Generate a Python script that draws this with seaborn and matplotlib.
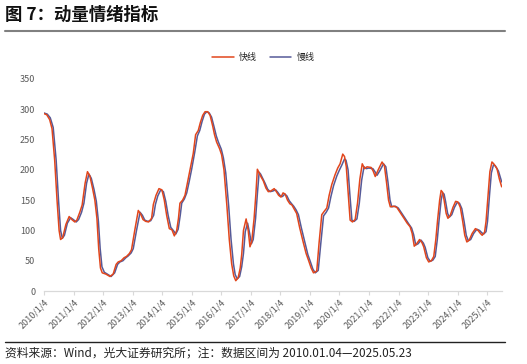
import numpy as np
import pandas as pd
import seaborn as sns
import matplotlib.pyplot as plt
from matplotlib.lines import Line2D

# 快线 (fast line) - decimal year positions and values
fast_t = [2010.00, 2010.10, 2010.20, 2010.28, 2010.37, 2010.45, 2010.52, 2010.57, 2010.64, 2010.75,
          2010.86, 2010.95, 2011.05, 2011.12, 2011.22, 2011.30, 2011.40, 2011.48, 2011.56, 2011.65,
          2011.73, 2011.80, 2011.86, 2011.92, 2011.98, 2012.10, 2012.24, 2012.35, 2012.45, 2012.52,
          2012.62, 2012.72, 2012.80, 2012.90, 2012.97, 2013.08, 2013.20, 2013.28, 2013.36, 2013.45,
          2013.55, 2013.65, 2013.71, 2013.80, 2013.90, 2014.00, 2014.08, 2014.16, 2014.25, 2014.34,
          2014.42, 2014.50, 2014.56, 2014.61, 2014.70, 2014.78, 2014.86, 2014.95, 2015.06, 2015.14,
          2015.23, 2015.30, 2015.38, 2015.46, 2015.55, 2015.63, 2015.72, 2015.78, 2015.85, 2015.95,
          2016.02, 2016.10, 2016.20, 2016.28, 2016.36, 2016.43, 2016.50, 2016.58, 2016.65, 2016.70,
          2016.76, 2016.85, 2016.92, 2016.98, 2017.04, 2017.12, 2017.18, 2017.23, 2017.28, 2017.36,
          2017.43, 2017.52, 2017.60, 2017.68, 2017.80, 2017.86, 2017.95, 2018.03, 2018.10, 2018.17,
          2018.25, 2018.33, 2018.40, 2018.48, 2018.56, 2018.66, 2018.79, 2018.88, 2018.96, 2019.05,
          2019.13, 2019.24, 2019.32, 2019.41, 2019.50, 2019.58, 2019.66, 2019.75, 2019.86, 2019.95,
          2020.03, 2020.12, 2020.18, 2020.24, 2020.30, 2020.37, 2020.45, 2020.54, 2020.62, 2020.70,
          2020.78, 2020.86, 2020.94, 2021.08, 2021.15, 2021.22, 2021.32, 2021.45, 2021.53, 2021.60,
          2021.67, 2021.73, 2021.85, 2021.95, 2022.06, 2022.18, 2022.30, 2022.40, 2022.47, 2022.54,
          2022.62, 2022.72, 2022.80, 2022.86, 2022.95, 2023.03, 2023.12, 2023.20, 2023.27, 2023.33,
          2023.40, 2023.45, 2023.50, 2023.55, 2023.62, 2023.68, 2023.76, 2023.85, 2023.94, 2024.02,
          2024.10, 2024.18, 2024.25, 2024.32, 2024.40, 2024.50, 2024.61, 2024.70, 2024.78, 2024.84,
          2024.92, 2024.97, 2025.04, 2025.10, 2025.17, 2025.23, 2025.34, 2025.42, 2025.50]
fast_v = [293, 291, 283, 268, 216, 150, 100, 85, 88, 110,
          123, 118, 114, 117, 130, 142, 178, 197, 190, 170,
          150, 120, 70, 38, 30, 28, 24, 28, 44, 48,
          50, 55, 57, 62, 68, 100, 133, 127, 118, 115,
          114, 120, 143, 158, 169, 167, 150, 125, 103, 101,
          91, 100, 120, 145, 150, 158, 178, 200, 227, 258,
          265, 278, 290, 296, 296, 290, 272, 258, 246, 235,
          225, 200, 140, 85, 45, 25, 17, 22, 38, 60,
          100, 119, 100, 73, 82, 120, 160, 201, 196, 188,
          182, 170, 164, 165, 169, 165, 158, 155, 162, 160,
          150, 144, 142, 135, 128, 105, 79, 62, 51, 38,
          30, 33, 80, 126, 132, 137, 158, 176, 192, 203,
          210, 226, 222, 205, 165, 117, 114, 118, 145, 185,
          210, 202, 205, 204, 198, 189, 200, 213, 207, 180,
          150, 139, 140, 138, 130, 121, 112, 106, 95, 74,
          78, 85, 80, 73, 55, 48, 50, 57, 85, 117,
          150, 166, 163, 150, 128, 120, 125, 138, 148, 147,
          138, 115, 92, 81, 84, 95, 103, 100, 95, 92,
          97, 115, 160, 197, 213, 210, 202, 185, 172]

# 慢线 (slow line)
slow_t = [2010.00, 2010.12, 2010.22, 2010.32, 2010.42, 2010.50, 2010.57, 2010.63, 2010.70, 2010.80,
          2010.91, 2011.00, 2011.10, 2011.18, 2011.28, 2011.36, 2011.45, 2011.53, 2011.61, 2011.70,
          2011.78, 2011.85, 2011.91, 2011.97, 2012.05, 2012.15, 2012.28, 2012.40, 2012.50, 2012.58,
          2012.68, 2012.78, 2012.86, 2012.96, 2013.03, 2013.14, 2013.26, 2013.34, 2013.42, 2013.52,
          2013.62, 2013.72, 2013.78, 2013.86, 2013.96, 2014.05, 2014.13, 2014.21, 2014.30, 2014.40,
          2014.47, 2014.55, 2014.62, 2014.67, 2014.76, 2014.84, 2014.92, 2015.01, 2015.11, 2015.20,
          2015.28, 2015.36, 2015.44, 2015.52, 2015.60, 2015.68, 2015.77, 2015.84, 2015.91, 2016.01,
          2016.08, 2016.16, 2016.26, 2016.34, 2016.42, 2016.48, 2016.55, 2016.63, 2016.70, 2016.76,
          2016.82, 2016.90, 2016.97, 2017.03, 2017.09, 2017.17, 2017.23, 2017.29, 2017.34, 2017.42,
          2017.49, 2017.58, 2017.66, 2017.75, 2017.85, 2017.92, 2018.01, 2018.08, 2018.16, 2018.23,
          2018.31, 2018.39, 2018.46, 2018.54, 2018.62, 2018.72, 2018.85, 2018.94, 2019.02, 2019.11,
          2019.19, 2019.29, 2019.38, 2019.47, 2019.56, 2019.64, 2019.72, 2019.81, 2019.92, 2020.01,
          2020.09, 2020.18, 2020.23, 2020.30, 2020.36, 2020.43, 2020.51, 2020.60, 2020.68, 2020.76,
          2020.84, 2020.92, 2021.00, 2021.14, 2021.21, 2021.28, 2021.38, 2021.50, 2021.58, 2021.65,
          2021.72, 2021.78, 2021.90, 2022.00, 2022.11, 2022.23, 2022.35, 2022.45, 2022.52, 2022.59,
          2022.67, 2022.77, 2022.85, 2022.91, 2023.00, 2023.08, 2023.17, 2023.25, 2023.32, 2023.38,
          2023.45, 2023.50, 2023.55, 2023.60, 2023.67, 2023.73, 2023.81, 2023.90, 2023.99, 2024.07,
          2024.15, 2024.23, 2024.30, 2024.37, 2024.45, 2024.55, 2024.66, 2024.75, 2024.83, 2024.89,
          2024.97, 2025.02, 2025.09, 2025.15, 2025.22, 2025.28, 2025.39, 2025.47, 2025.50]
slow_v = [294, 292, 286, 270, 216, 150, 100, 87, 92, 112,
          121, 118, 114, 118, 130, 145, 178, 193, 186, 168,
          148, 115, 70, 40, 31, 28, 24, 30, 44, 48,
          50, 55, 58, 63, 70, 100, 130, 125, 117, 115,
          116, 125, 143, 157, 167, 164, 148, 125, 105, 99,
          94, 102, 125, 145, 152, 162, 180, 202, 229, 256,
          265, 280, 292, 296, 294, 287, 270, 256, 246, 234,
          220, 195, 140, 85, 45, 27, 20, 24, 40, 62,
          98, 112, 95, 78, 85, 120, 160, 196, 193, 185,
          178, 168, 164, 165, 167, 163, 157, 156, 160, 157,
          149, 144, 140, 134, 126, 104, 78, 60, 49, 36,
          30, 34, 80, 124, 130, 137, 156, 174, 190, 200,
          208, 218, 216, 200, 160, 117, 115, 119, 145, 183,
          205, 202, 203, 202, 197, 191, 199, 210, 205, 180,
          150, 139, 140, 137, 129, 120, 111, 104, 93, 76,
          78, 84, 79, 72, 55, 49, 51, 57, 85, 117,
          150, 162, 160, 148, 128, 122, 126, 138, 146, 145,
          136, 114, 92, 83, 85, 95, 102, 100, 96, 94,
          98, 115, 160, 195, 208, 207, 198, 185, 180]

years = list(range(2010, 2026))
tick_labels = [f"{y}/1/4" for y in years]

fast_color = "#E2461C"
slow_color = "#565A98"

sns.set_theme(style="white")
plt.rcParams["font.family"] = ["Noto Sans CJK SC", "DejaVu Sans"]

fig = plt.figure(figsize=(5.27, 3.64), dpi=100)
ax = fig.add_axes([0.083, 0.2005, 0.869, 0.5825])

fast_df = pd.DataFrame({"t": fast_t, "v": fast_v})
slow_df = pd.DataFrame({"t": slow_t, "v": slow_v})
sns.lineplot(data=slow_df, x="t", y="v", ax=ax, color=slow_color, lw=1.1,
             estimator=None, label="慢线")
sns.lineplot(data=fast_df, x="t", y="v", ax=ax, color=fast_color, lw=1.1,
             estimator=None, label="快线")

ax.set_xlim(2010.0, 2025.5)
ax.set_ylim(0, 350)
ax.set_yticks(range(0, 351, 50))
ax.set_xticks([y + 0.01 for y in years])
ax.set_xticklabels(tick_labels, rotation=45, ha="right", rotation_mode="anchor",
                   fontsize=6.5, color="#595959")
ax.tick_params(axis="y", length=0, labelsize=6.5, labelcolor="#595959", pad=6)
ax.tick_params(axis="x", length=3, color="#D9D9D9", width=0.8, pad=2, bottom=True)
ax.set_xlabel("")
ax.set_ylabel("")
for s in ["left", "top", "right"]:
    ax.spines[s].set_visible(False)
ax.spines["bottom"].set_color("#D9D9D9")
ax.spines["bottom"].set_linewidth(0.9)

handles, labels = ax.get_legend_handles_labels()
ax.legend(handles[::-1], labels[::-1], loc="center", bbox_to_anchor=(0.5, 0.843),
          bbox_transform=fig.transFigure, ncol=2, frameon=False, fontsize=6.5,
          handlelength=2.4, columnspacing=1.4, handletextpad=0.6)

fig.text(0.01, 1 - 15 / 364, "图 7：动量情绪指标", fontsize=12.5, fontweight="bold",
         va="center", ha="left", color="#111111")
fig.add_artist(Line2D([5 / 527, 505 / 527], [1 - 31 / 364, 1 - 31 / 364],
                      color="#808080", lw=1.5))
fig.add_artist(Line2D([5 / 527, 505 / 527], [1 - 341.5 / 364, 1 - 341.5 / 364],
                      color="#222222", lw=1.0))
fig.text(0.01, 1 - 353 / 364,
         "资料来源：Wind，光大证券研究所；注：数据区间为 2010.01.04—2025.05.23",
         fontsize=8.5, va="center", ha="left", color="#222222")

fig.savefig("out.png", dpi=100)
